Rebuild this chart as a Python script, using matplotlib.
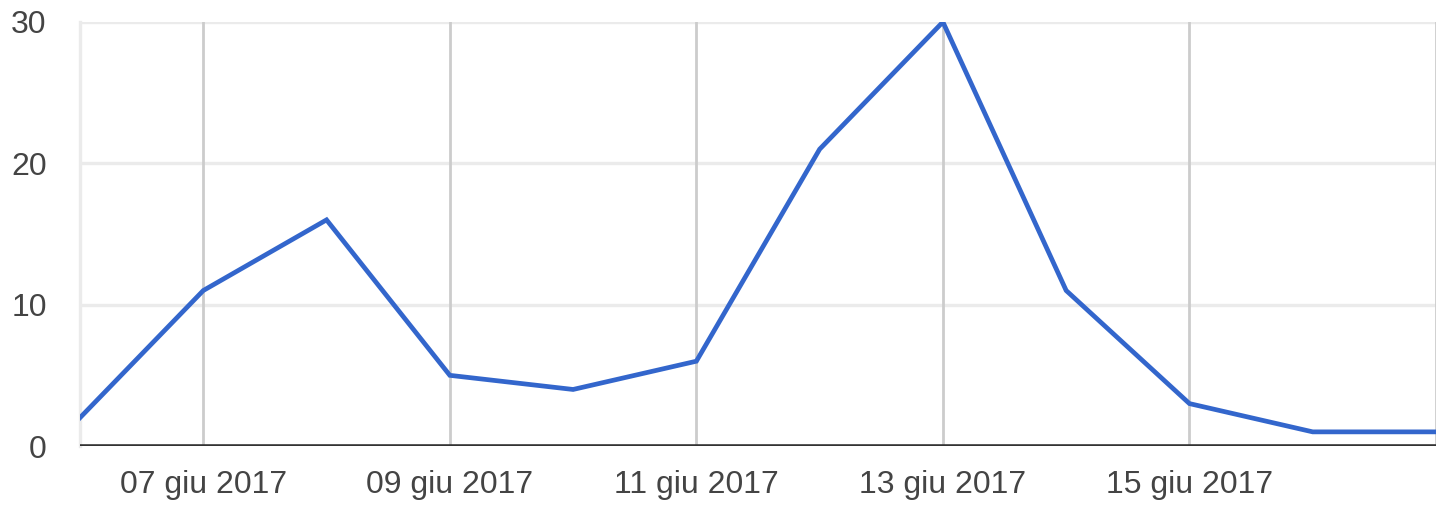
import numpy as np
import matplotlib.pyplot as plt
import matplotlib.dates as mdates
from matplotlib.ticker import FuncFormatter, FixedLocator
from datetime import datetime

plt.rcParams['font.family'] = ['Liberation Sans', 'DejaVu Sans']

# daily values, 06 - 17 giu 2017
days = ['2017-06-06', '2017-06-07', '2017-06-08', '2017-06-09', '2017-06-10', '2017-06-11',
        '2017-06-12', '2017-06-13', '2017-06-14', '2017-06-15', '2017-06-16', '2017-06-17']
counts = [2, 11, 16, 5, 4, 6, 21, 30, 11, 3, 1, 1]
tick_days = ['2017-06-07', '2017-06-09', '2017-06-11', '2017-06-13', '2017-06-15', '2017-06-17']
y_ticks = [0, 10, 20, 30]
mesi = ['gen', 'feb', 'mar', 'apr', 'mag', 'giu', 'lug', 'ago', 'set', 'ott', 'nov', 'dic']

ts_x = [datetime.strptime(d, '%Y-%m-%d') for d in days]
tick_x = [mdates.date2num(datetime.strptime(d, '%Y-%m-%d')) for d in tick_days]

fig = plt.figure(figsize=(14.37, 5.09), dpi=100)
ax = fig.add_axes([80 / 1437, 1 - 446 / 509, 1356 / 1437, (446 - 22) / 509])

# horizontal grid
for v in y_ticks[1:]:
    ax.axhline(v, color='#ebebeb', lw=2.4, zorder=1)
# vertical grid every 2 days
for t in tick_x:
    ax.axvline(t, color='#cccccc', lw=2.0, zorder=1)

ax.plot(ts_x, counts, color='#3366cc', lw=3.4, zorder=3, solid_joinstyle='miter')
ax.axhline(0, color='#333333', lw=2.6, zorder=4)

ax.set_xlim(ts_x[0], ts_x[-1])
ax.set_ylim(0, 30)

for s in ['top', 'right', 'bottom']:
    ax.spines[s].set_visible(False)
ax.spines['left'].set_color('#ebebeb')
ax.spines['left'].set_linewidth(2.4)

def fmt_date(x, pos):
    d = mdates.num2date(x)
    if d.day == 17:
        return ''
    return '%02d %s %d' % (d.day, mesi[d.month - 1], d.year)

ax.xaxis.set_major_locator(FixedLocator(tick_x))
ax.xaxis.set_major_formatter(FuncFormatter(fmt_date))
ax.set_yticks(y_ticks)
ax.tick_params(axis='both', length=0, labelsize=23, labelcolor='#444444')
ax.tick_params(axis='x', pad=17)
ax.tick_params(axis='y', pad=24)

fig.savefig('out.png', dpi=100)
